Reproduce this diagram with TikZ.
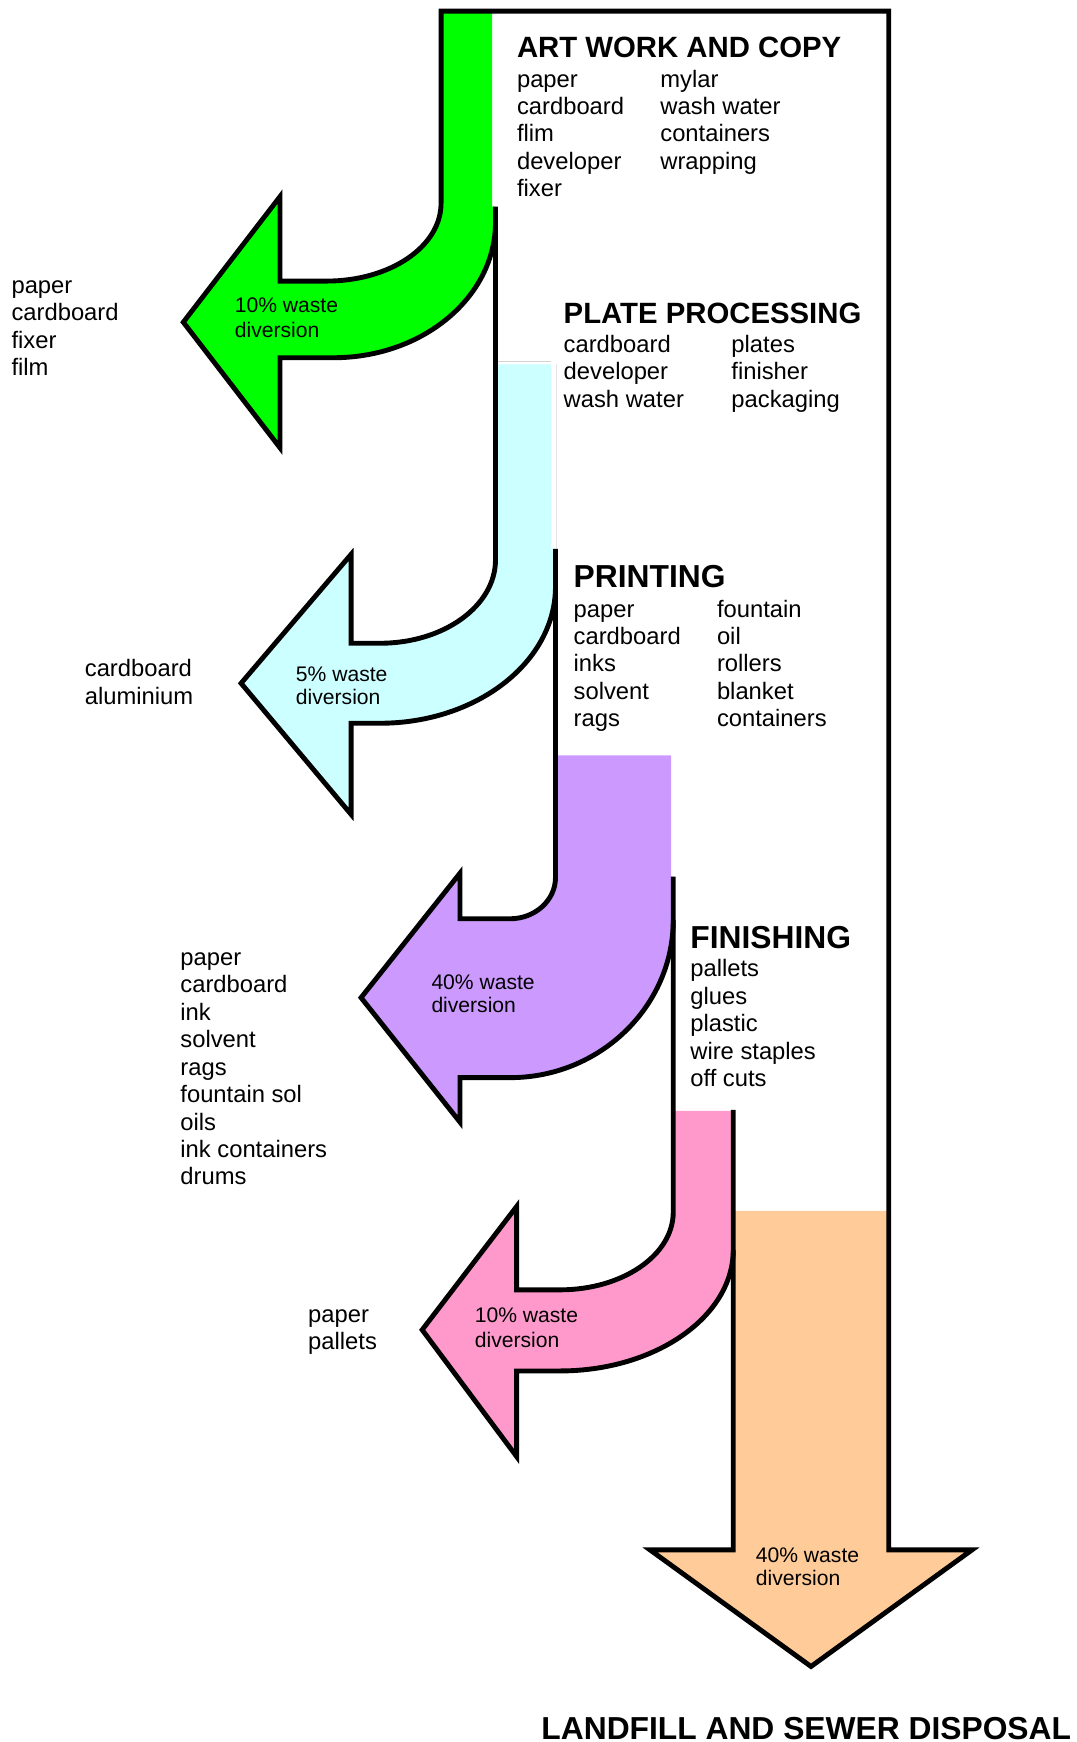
\documentclass[tikz,border=0pt]{standalone}
\usepackage{fontspec}
\setmainfont{Liberation Sans}

\definecolor{artgreen}{HTML}{00FF00}
\definecolor{platecyan}{HTML}{CCFFFF}
\definecolor{printpurple}{HTML}{CC99FF}
\definecolor{finishpink}{HTML}{FF99CC}
\definecolor{landorange}{HTML}{FFCC99}

\tikzset{
  outline/.style={line width=2.2pt, line join=miter},
  heading/.style={font=\fontsize{13.2}{15}\selectfont\bfseries, anchor=base west, inner sep=0pt},
  bigheading/.style={heading, font=\fontsize{14.3}{16}\selectfont\bfseries},
  item/.style={font=\fontsize{10.7}{12}\selectfont, anchor=base west, inner sep=0pt},
  share/.style={font=\fontsize{9.5}{11}\selectfont, anchor=base west, inner sep=0pt},
}

\begin{document}
\begin{tikzpicture}[x=0.5pt,y=-0.5pt] % y runs downwards
  \useasboundingbox (0,0) rectangle (969,1568);

  % Coloured flows
  \fill[artgreen] (397,10) -- (443,10) -- (443,186) -- (446,186) -- (446,200)
    .. controls (446,267) and (381,322) .. (300,322) -- (252,322) -- (252,403)
    -- (165,290) -- (252,177) -- (252,253) -- (294,253)
    .. controls (351,253) and (397,222) .. (397,183) -- cycle;
  \fill[platecyan] (446,328) -- (496,328) -- (496,494) -- (500,494) -- (500,528)
    .. controls (500,596) and (429,651) .. (342,651) -- (316,651) -- (316,733)
    -- (217,615) -- (316,499) -- (316,579) -- (342,579)
    .. controls (400,579) and (446,545) .. (446,504) -- cycle;
  \fill[printpurple] (500,680) -- (604,680) -- (604,789) -- (606,789) -- (606,828)
    .. controls (606,906) and (540,970) .. (459,970) -- (414,970) -- (414,1010)
    -- (325,898) -- (414,786) -- (414,827) -- (459,827)
    .. controls (482,827) and (500,810) .. (500,790) -- cycle;
  \fill[finishpink] (606,1000) -- (660,1000) -- (660,1125)
    .. controls (660,1185) and (590,1234) .. (504,1234) -- (465,1234) -- (465,1311)
    -- (380,1197) -- (465,1086) -- (465,1161) -- (504,1161)
    .. controls (560,1161) and (606,1130) .. (606,1091) -- cycle;
  \fill[landorange] (660,1090) -- (800,1090) -- (800,1395) -- (875,1395)
    -- (730,1500) -- (585,1395) -- (660,1395) -- cycle;

  % Faint edges of the cyan stem
  \draw[gray!35, line width=0.5pt] (446,325) -- (496,325);
  \draw[gray!20, line width=0.5pt] (501,328) -- (501,494);

  % Black outlines
  \draw[outline] (660,999) -- (660,1395) -- (585,1395) -- (730,1500) -- (875,1395)
    -- (800,1395) -- (800,10) -- (397,10) -- (397,183)
    .. controls (397,222) and (351,253) .. (294,253) -- (252,253) -- (252,177)
    -- (165,290) -- (252,403) -- (252,322) -- (300,322)
    .. controls (381,322) and (446,267) .. (446,200);
  \draw[outline] (446,186) -- (446,504)
    .. controls (446,545) and (400,579) .. (342,579) -- (316,579) -- (316,499)
    -- (217,615) -- (316,733) -- (316,651) -- (342,651)
    .. controls (429,651) and (500,596) .. (500,528);
  \draw[outline] (500,494) -- (500,790)
    .. controls (500,810) and (482,827) .. (459,827) -- (414,827) -- (414,786)
    -- (325,898) -- (414,1010) -- (414,970) -- (459,970)
    .. controls (540,970) and (606,906) .. (606,828);
  \draw[outline] (606,789) -- (606,1091)
    .. controls (606,1130) and (560,1161) .. (504,1161) -- (465,1161) -- (465,1086)
    -- (380,1197) -- (465,1311) -- (465,1234) -- (504,1234)
    .. controls (590,1234) and (660,1185) .. (660,1125);

  % Stage headings
  \node[heading] (artwork) at (465,52) {ART WORK AND COPY};
  \node[heading] (plate) at (507,291) {PLATE PROCESSING};
  \node[bigheading] (printing) at (516,528.5) {PRINTING};
  \node[bigheading] (finishing) at (621,853.5) {FINISHING};
  \node[bigheading] (landfill) at (487,1566) {LANDFILL AND SEWER DISPOSAL};

  % Stage inputs
  \foreach \txt [count=\i from 0] in {paper,cardboard,flim,developer,fixer}
    \node[item] (art-a\i) at (465,78.6+24.6*\i) {\txt};
  \foreach \txt [count=\i from 0] in {mylar,wash water,containers,wrapping}
    \node[item] (art-b\i) at (594,78.6+24.6*\i) {\txt};
  \foreach \txt [count=\i from 0] in {cardboard,developer,wash water}
    \node[item] (plate-a\i) at (507,317+24.7*\i) {\txt};
  \foreach \txt [count=\i from 0] in {plates,finisher,packaging}
    \node[item] (plate-b\i) at (658,317+24.7*\i) {\txt};
  \foreach \txt [count=\i from 0] in {paper,cardboard,inks,solvent,rags}
    \node[item] (print-a\i) at (516,555.7+24.5*\i) {\txt};
  \foreach \txt [count=\i from 0] in {fountain,oil,rollers,blanket,containers}
    \node[item] (print-b\i) at (645,555.7+24.5*\i) {\txt};
  \foreach \txt [count=\i from 0] in {pallets,glues,plastic,wire staples,off cuts}
    \node[item] (finish-\i) at (621,879.3+24.7*\i) {\txt};

  % Diverted materials
  \foreach \txt [count=\i from 0] in {paper,cardboard,fixer,film}
    \node[item] (green-\i) at (10,264+24.7*\i) {\txt};
  \foreach \txt [count=\i from 0] in {cardboard,aluminium}
    \node[item] (cyan-\i) at (76,609+24.7*\i) {\txt};
  \foreach \txt [count=\i from 0] in {paper,cardboard,ink,solvent,rags,fountain sol,oils,ink containers,drums}
    \node[item] (purple-\i) at (162,869+24.7*\i) {\txt};
  \foreach \txt [count=\i from 0] in {paper,pallets}
    \node[item] (pink-\i) at (277,1190+24.7*\i) {\txt};

  % Shares
  \node[share] (share-green) at (211,281.3) {10\% waste};
  \node[share] (share-green2) at (211,303.5) {diversion};
  \node[share] (share-cyan) at (266,613.3) {5\% waste};
  \node[share] (share-cyan2) at (266,634.3) {diversion};
  \node[share] (share-purple) at (388,890.7) {40\% waste};
  \node[share] (share-purple2) at (388,911.7) {diversion};
  \node[share] (share-pink) at (427,1190) {10\% waste};
  \node[share] (share-pink2) at (427,1212.5) {diversion};
  \node[share] (share-orange) at (680,1406) {40\% waste};
  \node[share] (share-orange2) at (680,1427.5) {diversion};
\end{tikzpicture}
\end{document}
